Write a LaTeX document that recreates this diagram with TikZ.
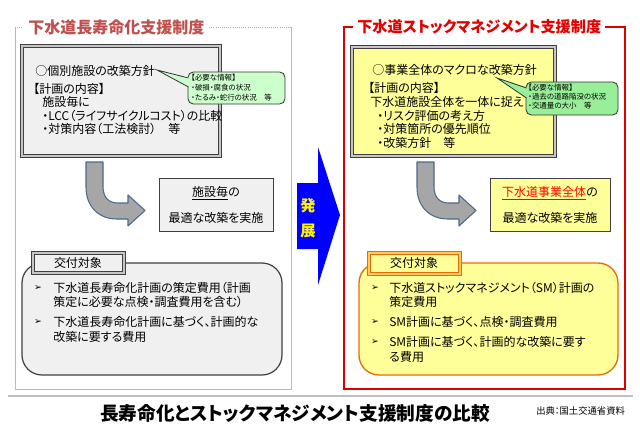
\documentclass[tikz,border=0pt]{standalone}
\usepackage{fontspec}
\setmainfont{Noto Sans CJK JP}[RawFeature=+palt]
\newfontfamily\symfont{DejaVu Sans}
\usetikzlibrary{positioning}
\definecolor{titlepink}{HTML}{C0504D}
\definecolor{framepink}{HTML}{EFA3A3}
\definecolor{boxgray}{HTML}{F0F0F0}
\definecolor{boxyellow}{HTML}{FFFF99}
\definecolor{noteleft}{HTML}{CCFFCC}
\definecolor{noteright}{HTML}{99EE99}
\definecolor{arrowgray}{HTML}{A6A6A6}
\definecolor{arrowedge}{HTML}{4A6A8F}
\definecolor{tabedge}{HTML}{E46C0A}

\begin{document}
\begin{tikzpicture}[x=0.75pt,y=-0.75pt,
  body/.style={font=\fontsize{9}{11}\selectfont,inner sep=0pt,anchor=west},
  notetext/.style={font=\fontsize{5.6}{6.5}\selectfont,inner sep=0pt,anchor=west},
  bulletmark/.style={font=\symfont\fontsize{7}{8}\selectfont,inner sep=0pt},
  paneltitle/.style={font=\fontsize{12}{14}\selectfont\bfseries,fill=white,inner sep=3pt,anchor=west},
  planbox/.style={draw=black!75,line width=0.9pt,double=gray!45,double distance=1.2pt},
  tabbox/.style={line width=0.7pt,double distance=0.9pt},
  resultbox/.style={draw=black!75,line width=0.6pt},
  notebox/.style={draw=black!80,line width=0.6pt,rounded corners=4pt},
  bentarrow/.style={fill=arrowgray,draw=arrowedge,line width=0.8pt,line join=round}]
  \fill[white] (0,0) rectangle (640,439);
  \useasboundingbox (0,0) rectangle (640,439);

  % panels
  \draw[framepink,line width=0.6pt] (291,27) -- (291,389) -- (15,389) -- (15,27);
  \draw[framepink!80!gray,line width=0.6pt,densely dotted] (15,27) -- (291,27);
  \node[paneltitle,text=titlepink] (ltitle) at (24,27) {下水道長寿命化支援制度};
  \draw[red!85!black,line width=0.9pt] (344,27) rectangle (625,389);
  \node[paneltitle,text=red!90!black,font=\fontsize{11.4}{14}\selectfont\bfseries] (rtitle) at (353,27) {下水道ストックマネジメント支援制度};

  % plan boxes
  \draw[planbox,fill=boxgray] (22,46) rectangle (220,156);
  \node[body] (lplan0) at (35,71) {○個別施設の改築方針};
  \node[body] (lplan1) at (33,89) {【計画の内容】};
  \node[body] (lplan2) at (42,102) {施設毎に};
  \node[body] (lplan3) at (42,116) {・LCC（ライフサイクルコスト）の比較};
  \node[body] (lplan4) at (42,129) {・対策内容（工法検討）　等};
  \draw[planbox,fill=boxyellow] (352,47) rectangle (555,156);
  \node[body] (rplan0) at (372,70) {○事業全体のマクロな改築方針};
  \node[body] (rplan1) at (368,88) {【計画の内容】};
  \node[body] (rplan2) at (370,102) {下水道施設全体を一体に捉え};
  \node[body] (rplan3) at (377,116) {・リスク評価の考え方};
  \node[body] (rplan4) at (377,129) {・対策箇所の優先順位};
  \node[body] (rplan5) at (377,143) {・改築方針　等};

  % callouts
  \draw[notebox,fill=noteleft] (188,72) rectangle (285,104);
  \fill[noteleft] (157,70) -- (190,77.5) -- (190,87.5) -- cycle;
  \draw[black!80,line width=0.6pt] (188.5,78) -- (157,70) -- (188.5,87);
  \node[notetext] (lnote1) at (191,78) {【必要な情報】};
  \node[notetext] (lnote2) at (191,88) {・破損・腐食の状況};
  \node[notetext] (lnote3) at (191,98) {・たるみ・蛇行の状況　等};
  \draw[notebox,fill=noteright] (526,82) rectangle (618,115);
  \fill[noteright] (497,78) -- (528,87.5) -- (528,98.5) -- cycle;
  \draw[black!80,line width=0.6pt] (526.5,88) -- (497,78) -- (526.5,98);
  \node[notetext] (rnote1) at (528,88) {【必要な情報】};
  \node[notetext] (rnote2) at (528,97) {・過去の道路陥没の状況};
  \node[notetext] (rnote3) at (528,106) {・交通量の大小　等};

  % bent arrows
  \foreach \dx in {0,331} {
    \draw[bentarrow,shift={(\dx,0)}] (86,162) -- (103,162) -- (103,186)
      .. controls (103,197) and (108,203) .. (118,203) -- (128,203) -- (128,195)
      -- (145,210.5) -- (128,226) -- (128,219) -- (117,219)
      .. controls (98,219) and (86,206) .. (86,187) -- cycle;
  }

  % result boxes
  \draw[resultbox,fill=boxgray] (159,178) rectangle (273,231);
  \node[body,anchor=center] (lres1) at (216,193) {\underline{施設毎}の};
  \node[body,anchor=center] (lres2) at (216,218) {最適な改築を実施};
  \draw[resultbox,fill=boxyellow] (490,178) rectangle (610,231);
  \node[body,anchor=center] (rres1) at (550,193) {\textcolor{red}{\underline{下水道事業全体}}の};
  \node[body,anchor=center] (rres2) at (550,218) {最適な改築を実施};

  % development arrow
  \fill[blue] (297,183) -- (318,183) -- (318,147) -- (340,215) -- (318,285)
    -- (318,249) -- (297,249) -- cycle;
  \node[font=\fontsize{11.5}{12}\selectfont\bfseries,text=yellow,inner sep=0pt] (hatsu) at (308,206) {発};
  \node[font=\fontsize{11.5}{12}\selectfont\bfseries,text=yellow,inner sep=0pt] (ten) at (308,231) {展};

  % subsidy targets
  \draw[draw=black!75,line width=0.9pt,fill=boxgray,rounded corners=15pt] (22,263) rectangle (282,375);
  \draw[tabbox,draw=black!75,double=gray!45,fill=boxgray] (33,253) rectangle (124,273);
  \node[body,anchor=center] (ltab) at (78,263) {交付対象};
  \foreach \y [count=\i] in {288,322}
    \node[bulletmark] (lmark\i) at (38,\y) {➢};
  \node[body] (lcost1) at (53,288) {下水道長寿命化計画の策定費用（計画};
  \node[body] (lcost2) at (53,302) {策定に必要な点検・調査費用を含む）};
  \node[body] (lcost3) at (53,322) {下水道長寿命化計画に基づく、計画的な};
  \node[body] (lcost4) at (53,337) {改築に要する費用};
  \draw[draw=tabedge,line width=1pt,fill=boxyellow,rounded corners=15pt] (359,263) rectangle (618,375);
  \draw[tabbox,draw=tabedge,double=boxyellow!60!orange,fill=boxyellow] (369,253) rectangle (460,274);
  \node[body,anchor=center] (rtab) at (414,263) {交付対象};
  \foreach \y [count=\i] in {288,322,342}
    \node[bulletmark] (rmark\i) at (375,\y) {➢};
  \node[body] (rcost1) at (389,288) {下水道ストックマネジメント（SM）計画の};
  \node[body] (rcost2) at (389,302) {策定費用};
  \node[body] (rcost3) at (389,322) {SM計画に基づく、点検・調査費用};
  \node[body] (rcost4) at (389,342) {SM計画に基づく、計画的な改築に要す};
  \node[body] (rcost5) at (389,357) {る費用};

  % caption
  \draw[black!25,line width=0.8pt] (8,396) -- (633,396);
  \node[font=\fontsize{14}{16}\selectfont\bfseries,inner sep=0pt] (caption) at (295,413) {長寿命化とストックマネジメント支援制度の比較};
  \node[font=\fontsize{7}{8}\selectfont,inner sep=0pt,anchor=west] (source) at (536,411) {出典：国土交通省資料};
\end{tikzpicture}
\end{document}
